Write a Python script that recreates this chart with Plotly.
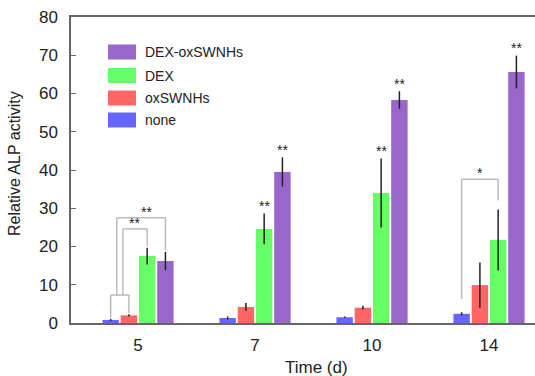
import plotly.graph_objects as go

days = ["5", "7", "10", "14"]
series_names = ["none", "oxSWNHs", "DEX", "DEX-oxSWNHs"]
series_colors = ["#6666FF", "#FF6666", "#66FF66", "#9966CC"]

none_vals = [0.8, 1.3, 1.5, 2.4]
none_err = [0.3, 0.4, 0.2, 0.4]
ox_vals = [2.0, 4.2, 4.0, 9.9]
ox_err = [0.3, 1.0, 0.5, 5.9]
dex_vals = [17.5, 24.6, 34.0, 21.7]
dex_err = [2.2, 4.0, 9.0, 8.0]
dexox_vals = [16.2, 39.5, 58.3, 65.6]
dexox_err = [2.4, 3.8, 2.3, 4.3]

values = [none_vals, ox_vals, dex_vals, dexox_vals]
errors = [none_err, ox_err, dex_err, dexox_err]

# significance stars: (day index, series index, label)
star_day = [0, 0, 1, 1, 2, 2, 3, 3]
star_series = [None, None, 2, 3, 2, 3, 3, None]
star_label = ["**", "**", "**", "**", "**", "**", "**", "*"]

BARGAP = 0.376
SLOT = (1 - BARGAP) / 4


def pos(d, s):
    return d + (s - 1.5) * SLOT


fig = go.Figure()
for i, name in enumerate(series_names):
    fig.add_trace(go.Bar(
        x=list(range(len(days))), y=values[i], name=name,
        marker=dict(color=series_colors[i], line=dict(width=0)),
        error_y=dict(type="data", array=errors[i], color="#222222",
                     thickness=1.5, width=0),
        showlegend=False,
    ))

br = "#BBBBBB"
shapes = []


def seg(x0, y0, x1, y1):
    shapes.append(dict(type="line", xref="x", yref="y", x0=x0, y0=y0,
                       x1=x1, y1=y1, line=dict(color=br, width=1.5)))


# Day 5 brackets
xb, xr = pos(0, 0), pos(0, 1)
low_h = 7.3
seg(xb, none_vals[0] + none_err[0] + 0.3, xb, low_h)
seg(xr, ox_vals[0] + ox_err[0] + 0.3, xr, low_h)
seg(xb, low_h, xr, low_h)
xl1 = xb + (xr - xb) / 3
xl2 = xb + 2 * (xr - xb) / 3
h_outer, h_inner = 27.5, 24.6
seg(xl1, low_h, xl1, h_outer)
seg(xl1, h_outer, pos(0, 3), h_outer)
seg(pos(0, 3), h_outer, pos(0, 3), dexox_vals[0] + dexox_err[0] + 0.4)
seg(xl2, low_h, xl2, h_inner)
seg(xl2, h_inner, pos(0, 2), h_inner)
seg(pos(0, 2), h_inner, pos(0, 2), dex_vals[0] + dex_err[0] + 0.5)
# Day 14 bracket
h14 = 37.6
seg(pos(3, 0), 6.3, pos(3, 0), h14)
seg(pos(3, 0), h14, pos(3, 2), h14)
seg(pos(3, 2), h14, pos(3, 2), 32.0)

annotations = []
star_pos = []
for d, s, lab in zip(star_day, star_series, star_label):
    if s is not None:
        star_pos.append((pos(d, s), values[s][d] + errors[s][d] + 2.0))
    else:
        star_pos.append((None, None))
# bracket stars
star_pos[0] = ((xl1 + pos(0, 3)) / 2 + 0.045, h_outer + 1.5)
star_pos[1] = ((xl2 + pos(0, 2)) / 2 - 0.008, h_inner + 1.5)
star_pos[7] = ((pos(3, 0) + pos(3, 2)) / 2, h14 + 1.5)
for (x, y), lab in zip(star_pos, star_label):
    annotations.append(dict(x=x, y=y, xref="x", yref="y", text=lab,
                            showarrow=False, yanchor="middle",
                            font=dict(size=14, color="#222222",
                                      family="Liberation Sans")))

# manual legend (top-left inside plot)
W, H = 464, 306
row_y = [52, 75.5, 98, 120]
for k, si in enumerate([3, 2, 1, 0]):
    py = row_y[k]
    shapes.append(dict(type="rect", xref="paper", yref="paper",
                       x0=(108 - 71) / W, x1=(136 - 71) / W,
                       y0=(323 - (py + 7.5)) / H, y1=(323 - (py - 7.5)) / H,
                       fillcolor=series_colors[si], line=dict(width=0)))
    annotations.append(dict(x=(143 - 71) / W, y=(323 - py) / H,
                            xref="paper", yref="paper", xanchor="left",
                            yanchor="middle", text=series_names[si],
                            showarrow=False,
                            font=dict(size=14, color="#222222",
                                      family="Liberation Sans")))

# axis titles
annotations.append(dict(x=(14 - 71) / W, y=(323 - 164) / H, xref="paper",
                        yref="paper", text="Relative ALP activity",
                        textangle=-90, showarrow=False,
                        xanchor="center", yanchor="middle",
                        font=dict(size=16, color="#222222",
                                  family="Liberation Sans")))
annotations.append(dict(x=(316 - 71) / W, y=(323 - 367) / H, xref="paper",
                        yref="paper", text="Time (d)", showarrow=False,
                        xanchor="center", yanchor="middle",
                        font=dict(size=17, color="#222222",
                                  family="Liberation Sans")))

fig.update_layout(
    width=535, height=376,
    margin=dict(l=71, r=0, t=17, b=53),
    paper_bgcolor="white", plot_bgcolor="white",
    barmode="group", bargap=BARGAP, bargroupgap=0.1,
    shapes=shapes, annotations=annotations,
    font=dict(family="Liberation Sans", color="#222222"),
    xaxis=dict(range=[-0.573, 3.393], tickvals=list(range(len(days))),
               ticktext=days, showline=True, linecolor="#666666",
               linewidth=1.5, mirror=True, ticks="", showgrid=False,
               zeroline=False, tickfont=dict(size=17),
               ticklabelstandoff=6),
    yaxis=dict(range=[0, 80], dtick=10, showline=True,
               linecolor="#666666", linewidth=1.5, ticks="inside",
               ticklen=5, tickcolor="#666666", showgrid=False,
               zeroline=False, tickfont=dict(size=17),
               ticklabelstandoff=8),
)

fig.write_html("out.html", config={"displayModeBar": False},
               post_script="document.body.style.margin='0';"
                           "document.body.style.overflow='hidden';")
